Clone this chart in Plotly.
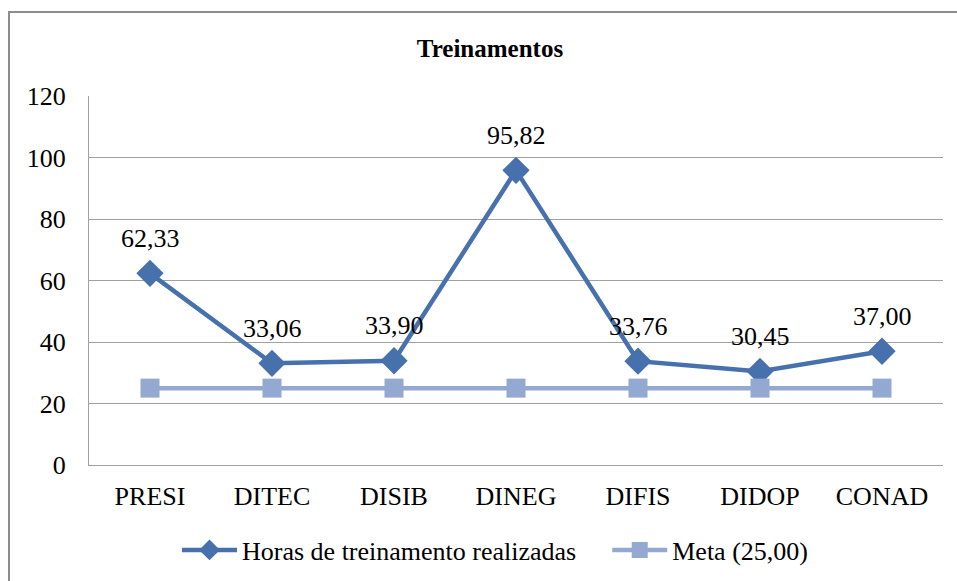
import plotly.graph_objects as go

categorias = ["PRESI", "DITEC", "DISIB", "DINEG", "DIFIS", "DIDOP", "CONAD"]
horas = [62.33, 33.06, 33.90, 95.82, 33.76, 30.45, 37.00]
meta = [25.00, 25.00, 25.00, 25.00, 25.00, 25.00, 25.00]
y_ticks = [0, 20, 40, 60, 80, 100, 120]

def fmt(v):
    return f"{v:.2f}".replace(".", ",")

FONT = "Liberation Serif"
C_MAIN = "#4671AD"
C_META = "#93A9D1"
FS = 26

fig = go.Figure()
fig.add_trace(go.Scatter(
    x=categorias, y=horas, name="Horas de treinamento realizadas\u00a0\u00a0\u00a0\u00a0",
    mode="lines+markers",
    line=dict(color=C_MAIN, width=4.5),
    marker=dict(symbol="diamond", size=21, color=C_MAIN),
))
fig.add_trace(go.Scatter(
    x=categorias, y=meta, name="Meta (25,00)",
    mode="lines+markers",
    line=dict(color=C_META, width=4.5),
    marker=dict(symbol="square", size=19, color=C_META),
))

for c, v in zip(categorias, horas):
    fig.add_annotation(x=c, y=v, text=fmt(v), showarrow=False, yshift=35,
                       font=dict(family=FONT, size=FS, color="#000000"))

# chart border
L, R, T, B = 89, 943, 96, 465
W, H = R - L, B - T
def px_x(p):
    return (p - L) / W
def px_y(p):
    return (B - p) / H
fig.add_shape(type="rect", xref="paper", yref="paper",
              x0=px_x(9), x1=px_x(1000), y0=px_y(620), y1=px_y(12),
              line=dict(color="#8c8c8c", width=2), fillcolor="rgba(0,0,0,0)", layer="below")

fig.update_layout(
    width=957, height=581,
    margin=dict(l=L, r=957 - R, t=T, b=581 - B),
    paper_bgcolor="white", plot_bgcolor="white",
    font=dict(family=FONT, size=FS, color="#000000"),
    title=dict(text="<b>Treinamentos</b>", x=490 / 957, xanchor="center",
               y=1 - 48 / 581, yanchor="middle", yref="container",
               font=dict(family=FONT, size=25, color="#000000")),
    showlegend=True,
    legend=dict(orientation="h", x=495 / 957, xref="container", xanchor="center",
                y=1 - 550 / 581, yref="container", yanchor="middle",
                font=dict(family=FONT, size=FS, color="#000000"),
                itemwidth=55, tracegroupgap=0, bgcolor="rgba(0,0,0,0)"),
    xaxis=dict(type="category", range=[-0.5, 6.5], showgrid=False,
               showline=True, linecolor="#a0a0a0", linewidth=1,
               ticks="", tickfont=dict(family=FONT, size=FS),
               ticklabelstandoff=8, zeroline=False),
    yaxis=dict(range=[0, 120], tickvals=y_ticks, ticktext=[str(t) for t in y_ticks],
               showgrid=True, gridcolor="#a0a0a0", gridwidth=1,
               showline=True, linecolor="#a0a0a0", linewidth=1,
               ticks="", tickfont=dict(family=FONT, size=FS),
               ticklabelstandoff=17, zeroline=False),
)

fig.write_html("out.html", config={"displayModeBar": False},
               post_script="document.body.style.margin='0';")
